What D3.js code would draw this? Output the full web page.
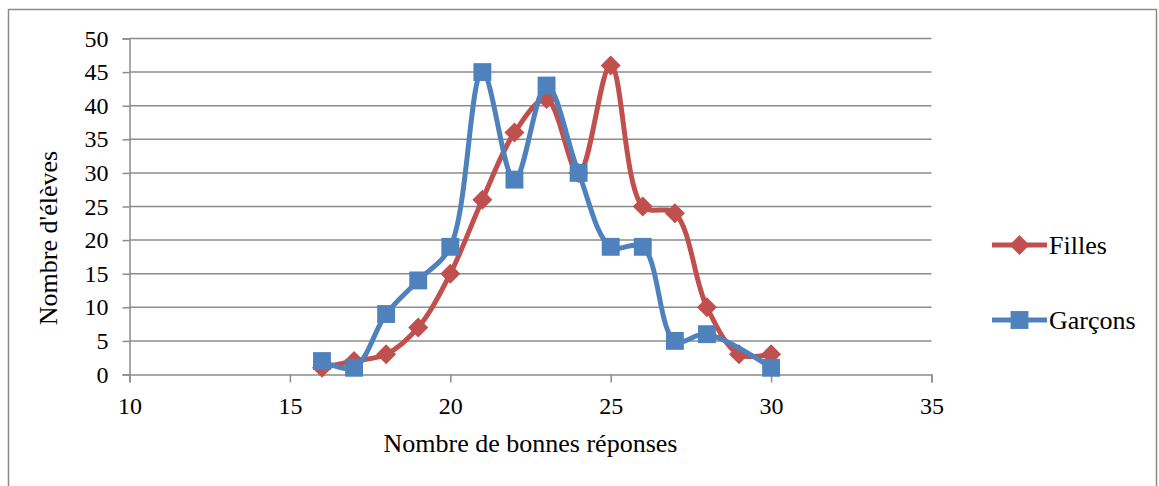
<!DOCTYPE html>
<style>
body { margin: 0; background: #fff; }
#chart text { font-family: "Liberation Serif", "Times New Roman", "DejaVu Serif", serif; fill: #000; }
</style>

<svg id="chart" width="1159" height="486"></svg>
<script src="https://cdn.jsdelivr.net/npm/d3@7/dist/d3.min.js"></script>

<script>
// values
var fillesX = [16, 17, 18, 19, 20, 21, 22, 23, 24, 25, 26, 27, 28, 29, 30];
var fillesY = [1, 2, 3, 7, 15, 26, 36, 41, 30, 46, 25, 24, 10, 3, 3];
var garconsX = [16, 17, 18, 19, 20, 21, 22, 23, 24, 25, 26, 27, 28, 30];
var garconsY = [2, 1, 9, 14, 19, 45, 29, 43, 30, 19, 19, 5, 6, 1];
var xTicks = [10, 15, 20, 25, 30, 35];
var yTicks = [0, 5, 10, 15, 20, 25, 30, 35, 40, 45, 50];

var svg = d3.select("#chart");

// outer frame
svg.append("rect")
    .attr("x", 8.5).attr("y", 9.5)
    .attr("width", 1148).attr("height", 490)
    .attr("fill", "none").attr("stroke", "#8a8a8a").attr("stroke-width", 1.5);

var x = d3.scaleLinear().domain([10, 35]).range([129.5, 931.5]);
var y = d3.scaleLinear().domain([0, 50]).range([374.5, 38.5]);

// horizontal grid
svg.append("g").selectAll("line")
    .data(yTicks.slice(1))
  .enter().append("line")
    .attr("x1", x(10)).attr("x2", x(35))
    .attr("y1", function(d) { return y(d); })
    .attr("y2", function(d) { return y(d); })
    .attr("stroke", "#8c8c8c").attr("stroke-width", 1.5);

var yAxis = svg.append("g")
    .attr("transform", "translate(" + x(10) + ",0)")
    .call(d3.axisLeft(y).tickValues(yTicks).tickSize(7).tickPadding(14));

var xAxis = svg.append("g")
    .attr("transform", "translate(0," + y(0) + ")")
    .call(d3.axisBottom(x).tickValues(xTicks).tickSize(8).tickPadding(12));

[xAxis, yAxis].forEach(function(a) {
  a.select(".domain").attr("stroke", "#8c8c8c").attr("stroke-width", 1.5);
  a.selectAll(".tick line").attr("stroke", "#8c8c8c").attr("stroke-width", 1.5);
  a.selectAll(".tick text").style("font-size", "24px");
});
xAxis.selectAll(".tick text").attr("dy", "0.8em");

svg.append("text")
    .attr("x", x(22.5)).attr("y", 452)
    .attr("text-anchor", "middle").style("font-size", "26px")
    .text("Nombre de bonnes réponses");

svg.append("text")
    .attr("transform", "translate(57,238) rotate(-90)")
    .attr("text-anchor", "middle").style("font-size", "26px")
    .text("Nombre d'élèves");

// Excel-style diamond = square turned 45 degrees
var series = [
  {name: "Filles", xs: fillesX, ys: fillesY, color: "#C0504D", size: 200, rot: 45, ly: 245},
  {name: "Garçons", xs: garconsX, ys: garconsY, color: "#4F81BD", size: 320, rot: 0, ly: 320}
];

var line = d3.line()
    .x(function(d) { return x(d[0]); })
    .y(function(d) { return y(d[1]); })
    .curve(d3.curveCatmullRom.alpha(0.5));

series.forEach(function(s) {
  var pts = s.xs.map(function(v, i) { return [v, s.ys[i]]; });
  var sym = d3.symbol().type(d3.symbolSquare).size(s.size);
  svg.append("path")
      .datum(pts)
      .attr("d", line)
      .attr("fill", "none")
      .attr("stroke", s.color)
      .attr("stroke-width", 5)
      .attr("stroke-linejoin", "round");
  svg.append("g").selectAll("path")
      .data(pts)
    .enter().append("path")
      .attr("transform", function(d) {
        return "translate(" + x(d[0]) + "," + y(d[1]) + ") rotate(" + s.rot + ")";
      })
      .attr("d", sym)
      .attr("fill", s.color);

  // legend entry
  var lg = svg.append("g").attr("transform", "translate(992," + s.ly + ")");
  lg.append("line")
      .attr("x1", 0).attr("x2", 55)
      .attr("stroke", s.color).attr("stroke-width", 5);
  lg.append("path")
      .attr("transform", "translate(27.5,0) rotate(" + s.rot + ")")
      .attr("d", sym)
      .attr("fill", s.color);
  lg.append("text")
      .attr("x", 57).attr("y", 0).attr("dy", "0.35em")
      .style("font-size", "26px")
      .text(s.name);
});
</script>
